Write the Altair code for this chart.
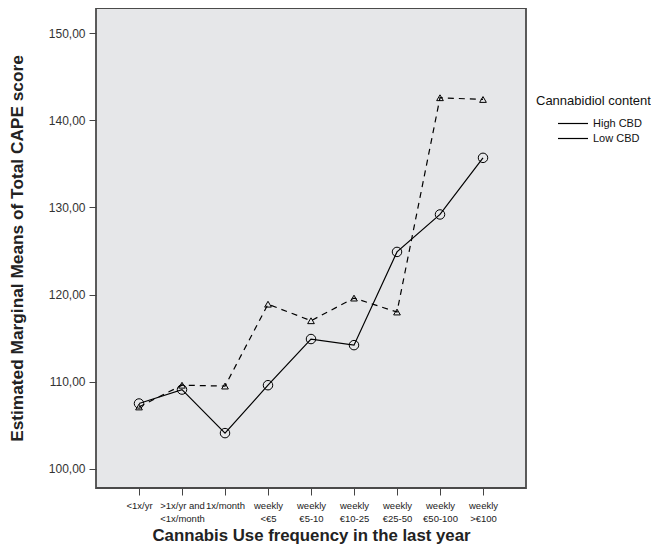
import altair as alt
import pandas as pd

categories = ["<1x/yr", ">1x/yr and\n<1x/month", "1x/month", "weekly\n<€5", "weekly\n€5-10",
              "weekly\n€10-25", "weekly\n€25-50", "weekly\n€50-100", "weekly\n>€100"]
high_cbd = [107.5, 109.1, 104.1, 109.6, 114.9, 114.2, 124.9, 129.2, 135.7]
low_cbd = [107.1, 109.6, 109.5, 118.9, 117.0, 119.6, 118.0, 142.6, 142.4]
series = ["High CBD", "Low CBD"]

rows = []
for i, c in enumerate(categories):
    rows.append({"freq": c, "cbd": series[0], "score": high_cbd[i]})
    rows.append({"freq": c, "cbd": series[1], "score": low_cbd[i]})
df = pd.DataFrame(rows)

FONT = "Liberation Sans"

x = alt.X("freq:N", sort=categories, scale=alt.Scale(type="point", padding=1),
          title="Cannabis Use frequency in the last year",
          axis=alt.Axis(labelAngle=0, labelExpr="split(datum.label, '\\n')",
                        labelFontSize=9.5, labelColor="#222", labelFont=FONT,
                        tickColor="#444", tickSize=7, domain=False, labelPadding=5,
                        titleFontSize=16.8, titleFont=FONT, titleFontWeight="bold",
                        titleColor="#222", titlePadding=5, labelLineHeight=13))
y = alt.Y("score:Q", scale=alt.Scale(domain=[97.8, 152.9], nice=False, zero=False),
          title="Estimated Marginal Means of Total CAPE score",
          axis=alt.Axis(values=[100, 110, 120, 130, 140, 150],
                        labelExpr="replace(format(datum.value, '.2f'), '.', ',')",
                        labelFontSize=12, labelColor="#333", labelFont=FONT,
                        tickColor="#444", tickSize=7, domain=False, grid=False,
                        labelPadding=4, titleFontSize=17.3, titleFont=FONT,
                        titleFontWeight="bold", titleColor="#222", titlePadding=22))

color = alt.Color("cbd:N", scale=alt.Scale(domain=series, range=["black", "black"]),
                  legend=alt.Legend(title="Cannabidiol content", orient="none",
                                    legendX=440, legendY=87, symbolType="stroke",
                                    symbolSize=900, symbolStrokeWidth=1.2,
                                    symbolOffset=21, labelFontSize=11,
                                    labelFont=FONT, titleFont=FONT, titleFontSize=13,
                                    titleFontWeight="normal", titleColor="#111",
                                    labelColor="#111", rowPadding=0, clipHeight=15,
                                    titlePadding=8, labelOffset=4))

base = alt.Chart(df)

line_high = base.mark_line(strokeWidth=1.2).encode(x=x, y=y, color=color).transform_filter(
    alt.datum.cbd == series[0])
line_low = base.mark_line(strokeWidth=1.2, strokeDash=[6, 5]).encode(x=x, y=y, color=color).transform_filter(
    alt.datum.cbd == series[1])
pts_high = base.mark_point(filled=False, color="black", strokeWidth=1, opacity=1,
                           shape="circle", size=90).encode(x=x, y=y).transform_filter(
    alt.datum.cbd == series[0])
pts_low = base.mark_point(filled=False, color="black", strokeWidth=1, opacity=1,
                          shape="triangle-up", size=45).encode(x=x, y=y).transform_filter(
    alt.datum.cbd == series[1])

chart = alt.layer(line_high, line_low, pts_high, pts_low).properties(
    width=430, height=480,
    autosize=alt.AutoSizeParams(type="none"),
    padding={"left": 88, "top": 0, "right": 125, "bottom": 57},
    background="white",
).configure_view(fill="#e6e7e9", stroke="#4a4a4a", strokeWidth=1.8)

chart.save("out.html", embed_options={"renderer": "svg", "actions": False})
